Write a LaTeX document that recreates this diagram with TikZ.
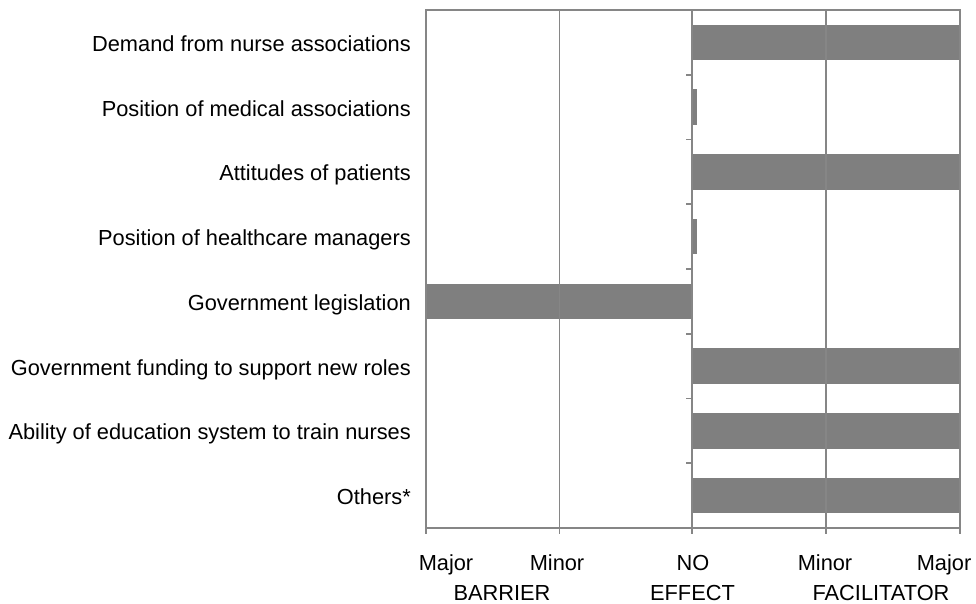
\documentclass[tikz,border=0pt]{standalone}
\usepackage{fontspec}
\setmainfont{Liberation Sans}
\definecolor{axisgray}{RGB}{134,134,134}
\definecolor{bargray}{RGB}{127,127,127}
\tikzset{
  axisline/.style={draw=axisgray, line width=1.8pt},
  bar/.style={fill=bargray, draw=none},
  catlabel/.style={anchor=base east, inner sep=0pt, font=\fontsize{21.8}{26}\selectfont},
  scalelabel/.style={anchor=base, inner sep=0pt, font=\fontsize{21.8}{26}\selectfont},
}
\begin{document}
\begin{tikzpicture}[x=1pt,y=-1pt]
\useasboundingbox (0,0) rectangle (976,604);
% geometry
\def\top{10}
\def\bot{528}
\def\cat{64.75}
\def\bh{17.7}
% bars (center = top + (i-0.5)*cat)
\foreach \i/\xa/\xb in {1/692/960, 2/692/696.5, 3/692/960, 4/692/696.5, 5/426/692, 6/692/960, 7/692/960, 8/692/960}{
  \pgfmathsetmacro{\c}{\top+(\i-0.5)*\cat}
  \path[bar] (\xa,\c-\bh) rectangle (\xb,\c+\bh);
}
% frame and grid
\draw[axisline] (426,\bot) -- (426,\top) -- (960,\top) -- (960,\bot);
\draw[axisline] (559.5,\top) -- (559.5,\bot);
\draw[axisline] (826,\top) -- (826,\bot);
\draw[axisline] (692,\top) -- (692,\bot);
\draw[axisline] (426,\bot) -- (960,\bot);
% ticks on vertical axis
\foreach \i in {0,...,8}{
  \pgfmathsetmacro{\t}{\top+\i*\cat}
  \draw[axisline] (686,\t) -- (692,\t);
}
% ticks on horizontal axis
\foreach \x in {426,559.5,692,826,960}{
  \draw[axisline] (\x,\bot) -- (\x,534);
}
% category labels
\node[catlabel] (l1) at (411,{\top+0.5*\cat+9}) {Demand from nurse associations};
\node[catlabel] (l2) at (411,{\top+1.5*\cat+9}) {Position of medical associations};
\node[catlabel] (l3) at (411,{\top+2.5*\cat+9}) {Attitudes of patients};
\node[catlabel] (l4) at (411,{\top+3.5*\cat+9}) {Position of healthcare managers};
\node[catlabel] (l5) at (411,{\top+4.5*\cat+9}) {Government legislation};
\node[catlabel] (l6) at (411,{\top+5.5*\cat+9}) {Government funding to support new roles};
\node[catlabel] (l7) at (411,{\top+6.5*\cat+9}) {Ability of education system to train nurses};
\node[catlabel] (l8) at (411,{\top+7.5*\cat+9}) {Others*};
% scale labels
\node[scalelabel] (s1) at (446,570) {Major};
\node[scalelabel] (s2) at (557,570) {Minor};
\node[scalelabel] (s3) at (693,570) {NO};
\node[scalelabel] (s4) at (825,570) {Minor};
\node[scalelabel] (s5) at (944,570) {Major};
\node[scalelabel] (b1) at (502,600.5) {BARRIER};
\node[scalelabel] (b2) at (692.5,600.5) {EFFECT};
\node[scalelabel] (b3) at (881,600.5) {FACILITATOR};
\end{tikzpicture}
\end{document}
